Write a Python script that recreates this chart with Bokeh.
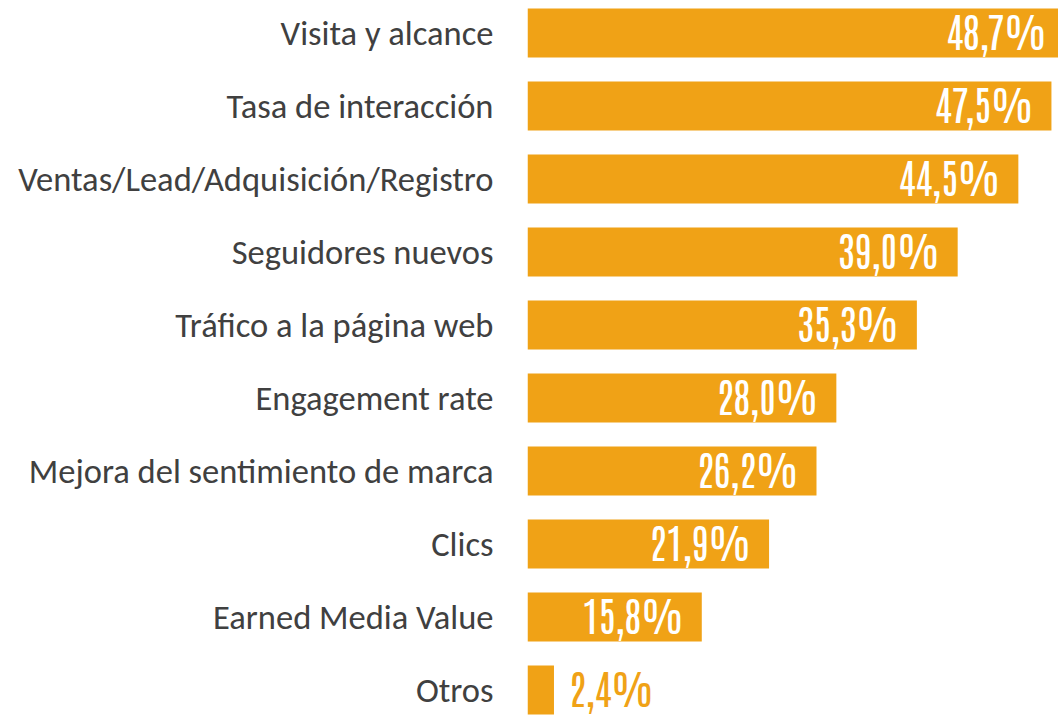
from bokeh.plotting import figure
from bokeh.models import Range1d, FixedTicker, ColumnDataSource
from bokeh.core.properties import value
from bokeh.embed import file_html
from bokeh.resources import INLINE

categories = ["Visita y alcance", "Tasa de interacción", "Ventas/Lead/Adquisición/Registro",
              "Seguidores nuevos", "Tráfico a la página web", "Engagement rate",
              "Mejora del sentimiento de marca", "Clics", "Earned Media Value", "Otros"]
values = [48.7, 47.5, 44.5, 39.0, 35.3, 28.0, 26.2, 21.9, 15.8, 2.4]
labels = ["48,7%", "47,5%", "44,5%", "39,0%", "35,3%", "28,0%", "26,2%", "21,9%", "15,8%", "2,4%"]

BAR = "#F0A216"
pos = list(range(len(categories)))

p = figure(width=1058, height=715, output_backend="svg", toolbar_location=None,
           x_range=Range1d(0, 48.14), y_range=Range1d(9.349, -0.445),
           min_border_left=527, min_border_right=0, min_border_top=0, min_border_bottom=0)
p.outline_line_color = None
p.grid.visible = False
p.xaxis.visible = False
p.background_fill_color = "white"
p.border_fill_color = "white"

src = ColumnDataSource(dict(y=pos, v=values))
p.hbar(y="y", right="v", left=0, height=0.671, source=src, color=BAR, line_color=None)

inside = ColumnDataSource(dict(y=pos[:-1], v=values[:-1], lab=labels[:-1]))
outside = ColumnDataSource(dict(y=pos[-1:], v=values[-1:], lab=labels[-1:]))
num_font = value("Antonio")
p.text(x="v", y="y", text="lab", source=inside, text_align="right", text_baseline="middle",
       x_offset=-18, y_offset=-3, text_color="white", text_font=num_font, text_font_size="40px")
p.text(x="v", y="y", text="lab", source=outside, text_align="left", text_baseline="middle",
       x_offset=15, y_offset=-3, text_color=BAR, text_font=num_font, text_font_size="40px")

ax = p.yaxis[0]
ax.ticker = FixedTicker(ticks=pos)
ax.major_label_overrides = {i: c for i, c in enumerate(categories)}
ax.axis_line_color = None
ax.major_tick_line_color = None
ax.minor_tick_line_color = None
ax.major_tick_out = 0
ax.major_tick_in = 0
ax.major_label_standoff = 34
ax.major_label_text_font = "Carlito"
ax.major_label_text_font_size = "34.5px"
ax.major_label_text_color = "#404040"

open("out.html", "w").write(file_html(p, INLINE))
